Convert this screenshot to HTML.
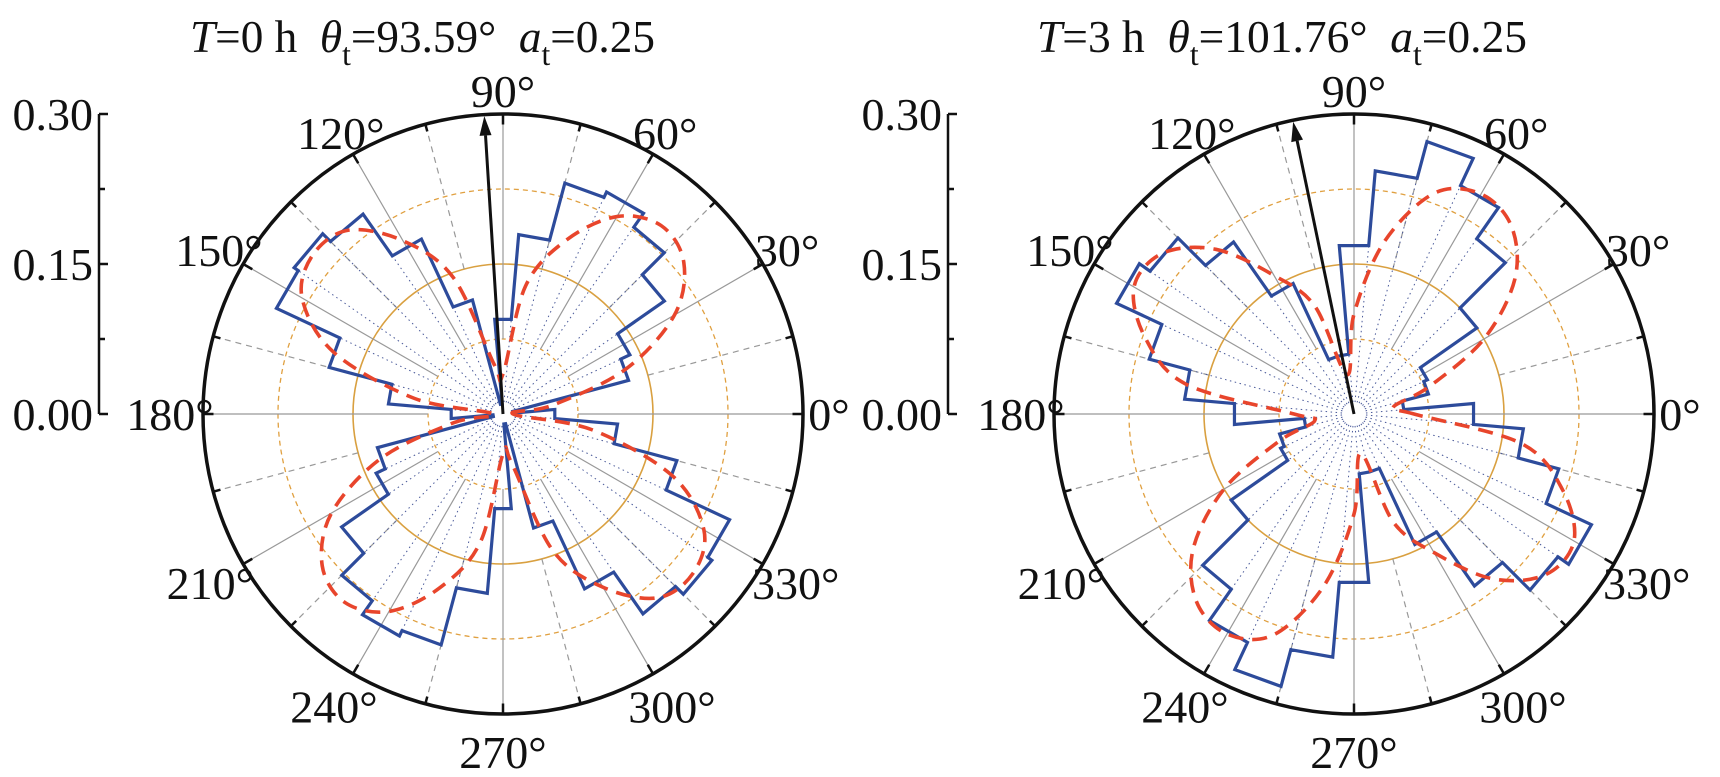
<!DOCTYPE html>
<html><head><meta charset="utf-8">
<style>
html,body{margin:0;padding:0;background:#fff;}
svg{display:block;}
text{font-family:"Liberation Serif",serif;fill:#111;}
</style></head>
<body>
<svg id="chart" width="1720" height="777" viewBox="0 0 1720 777" xmlns="http://www.w3.org/2000/svg">
  <g id="left"></g>
  <g id="right"></g>
</svg>
<script>
// bin centres (degrees), half-circle; mirrored for axial data
const binCenters = [0,10,20,30,40,50,60,70,80,90,100,110,120,130,140,150,160,170];
const blueT0 = [0.052,0.01,0.13,0.14,0.197,0.228,0.245,0.239,0.18,0.095,0.01,0.118,0.193,0.244,0.255,0.25,0.18,0.115];
const redT0  = [0.01,0.05,0.13,0.198,0.236,0.246,0.228,0.185,0.13,0.04,0.05,0.145,0.2,0.24,0.248,0.232,0.18,0.09];
const blueT3 = [0.12,0.05,0.077,0.081,0.15,0.214,0.252,0.282,0.244,0.169,0.06,0.06,0.144,0.21,0.249,0.262,0.212,0.17];
const redT3  = [0.06,0.04,0.08,0.15,0.21,0.245,0.254,0.235,0.175,0.10,0.04,0.115,0.16,0.215,0.25,0.254,0.222,0.17];
const meanDir = [93.59, 101.76];
const titleT = ["0","3"];
const titleTheta = ["93.59","101.76"];
const titleA = ["0.25","0.25"];
const radialTicks = [0.00,0.15,0.30];
const radialTickLabels = ["0.00","0.15","0.30"];
const angleLabels = [0,30,60,90,120,150,180,210,240,270,300,330];

const NS="http://www.w3.org/2000/svg";
const RMAX=0.30, RPX=300, CY=414;
function mk(tag,attrs,parent){const e=document.createElementNS(NS,tag);for(const k in attrs)e.setAttribute(k,attrs[k]);parent.appendChild(e);return e;}
function rScale(v){return v/RMAX*RPX;}

function draw(g,cx,blue,red,dir,idx,axisX,titleX,titleW){
  function pt(deg,v){const a=deg*Math.PI/180,r=rScale(v);return [cx+r*Math.cos(a),CY-r*Math.sin(a)];}
  const B=blue.concat(blue), R=red.concat(red);
  const centers=binCenters.concat(binCenters.map(c=>c+180));
  [[0.075,'4 4','#e0a040',1.3],[0.15,'',"#d9a040",1.6],[0.225,'5 4','#e0a040',1.3]].forEach((c,i)=>{
    const e=mk('circle',{cx:cx,cy:CY,r:rScale(c[0]),fill:'none',stroke:c[2],'stroke-width':c[3]},g);
    if(c[1])e.setAttribute('stroke-dasharray',c[1]);
    
    
  });
  for(let a=0;a<360;a+=15){
    const solid=a%30===0;
    const p1=pt(a,solid?0.075:0.15),p2=pt(a,RMAX);
    const l=mk('line',{x1:p1[0],y1:p1[1],x2:p2[0],y2:p2[1],stroke:'#999','stroke-width':1.2},g);
    if(!solid)l.setAttribute('stroke-dasharray','6 5');
    
    
  }
  for(let i=0;i<36;i++){
    const c=centers[i];
    const v=Math.min(B[i],B[(i+35)%36]);
    const p0=pt(c-5,0.012),p=pt(c-5,v);
    const l=mk('line',{x1:p0[0],y1:p0[1],x2:p[0],y2:p[1],stroke:'#4a5a9a','stroke-width':1,'stroke-dasharray':'1.5 3.5'},g);
    
    
  }
  let pts=[];
  for(let i=0;i<36;i++){const c=centers[i];pts.push(pt(c-5,B[i]));pts.push(pt(c+5,B[i]));}
  const poly=mk('polygon',{points:pts.map(p=>p.join(',')).join(' '),fill:'none',stroke:'#2d4b9b','stroke-width':3.2,'stroke-linejoin':'miter'},g);
  
  
  const rp=centers.map((c,i)=>pt(c,R[i]));
  const n=rp.length;let d='M'+rp[0][0]+','+rp[0][1];
  for(let i=0;i<n;i++){
    const p0=rp[(i-1+n)%n],p1=rp[i],p2=rp[(i+1)%n],p3=rp[(i+2)%n];
    const c1=[p1[0]+(p2[0]-p0[0])/6,p1[1]+(p2[1]-p0[1])/6];
    const c2=[p2[0]-(p3[0]-p1[0])/6,p2[1]-(p3[1]-p1[1])/6];
    d+=' C'+c1.join(',')+' '+c2.join(',')+' '+p2.join(',');
  }
  const rc=mk('path',{d:d+'Z',fill:'none',stroke:'#e8452c','stroke-width':3.6,'stroke-dasharray':'15 9'},g);
  
  
  const oc=mk('circle',{cx:cx,cy:CY,r:RPX,fill:'none',stroke:'#111','stroke-width':3.5},g);
  
  
  for(let a=0;a<360;a+=15){
    const p1=pt(a,RMAX),p2=pt(a,RMAX*(a%30===0?0.965:0.975));
    const t=mk('line',{x1:p1[0],y1:p1[1],x2:p2[0],y2:p2[1],stroke:'#111','stroke-width':2.5},g);
    
    
  }
  const ap=pt(dir,RMAX*0.995),ab=pt(dir,RMAX*0.93);
  const a=dir*Math.PI/180;
  const ln=mk('line',{x1:cx,y1:CY,x2:ab[0],y2:ab[1],stroke:'#111','stroke-width':3},g);
  
  
  const px=Math.sin(a)*6,py=Math.cos(a)*6;
  const head=mk('polygon',{points:[ap,[ab[0]+px,ab[1]+py],[ab[0]-px,ab[1]-py]].map(p=>p.join(',')).join(' '),fill:'#111'},g);
  
  
  angleLabels.forEach(an=>{
    const s=Math.sin(an*Math.PI/180);
    const rr=an===0?326:(s>0?333-10*s:338);
    const p=pt(an,RMAX*rr/300);
    const t=mk('text',{x:p[0],y:p[1]+16,'text-anchor':'middle','font-size':46},g);
    t.textContent=an+'°';
    
    
  });
  const ax=mk('line',{x1:axisX,y1:CY-RPX,x2:axisX,y2:CY,stroke:'#111','stroke-width':2.5},g);
  
  
  [0,0.075,0.15,0.225,0.30].forEach(v=>{
    const y=CY-rScale(v);
    const tk=mk('line',{x1:axisX,y1:y,x2:axisX+(Math.round(v*1000)%150===0?9:6),y2:y,stroke:'#111','stroke-width':2.5},g);
    
    
  });
  radialTicks.forEach((v,i)=>{
    const t=mk('text',{x:axisX-6,y:CY-rScale(v)+16,'text-anchor':'end','font-size':46},g);
    t.textContent=radialTickLabels[i];
    
    
  });
  const tt=mk('text',{x:titleX,y:52,'font-size':46,textLength:titleW,lengthAdjust:'spacingAndGlyphs'},g);
  
  
  tt.innerHTML='<tspan font-style="italic">T</tspan>='+titleT[idx]+' h\u00a0\u00a0<tspan font-style="italic">θ</tspan><tspan font-size="32" dy="13">t</tspan><tspan dy="-13">='+titleTheta[idx]+'°\u00a0\u00a0</tspan><tspan font-style="italic">a</tspan><tspan font-size="32" dy="13">t</tspan><tspan dy="-13">='+titleA[idx]+'</tspan>';
}
draw(document.getElementById('left'),503,blueT0,redT0,meanDir[0],0,99,190,465);
draw(document.getElementById('right'),1354,blueT3,redT3,meanDir[1],1,948,1037,490);
</script>
</body></html>
